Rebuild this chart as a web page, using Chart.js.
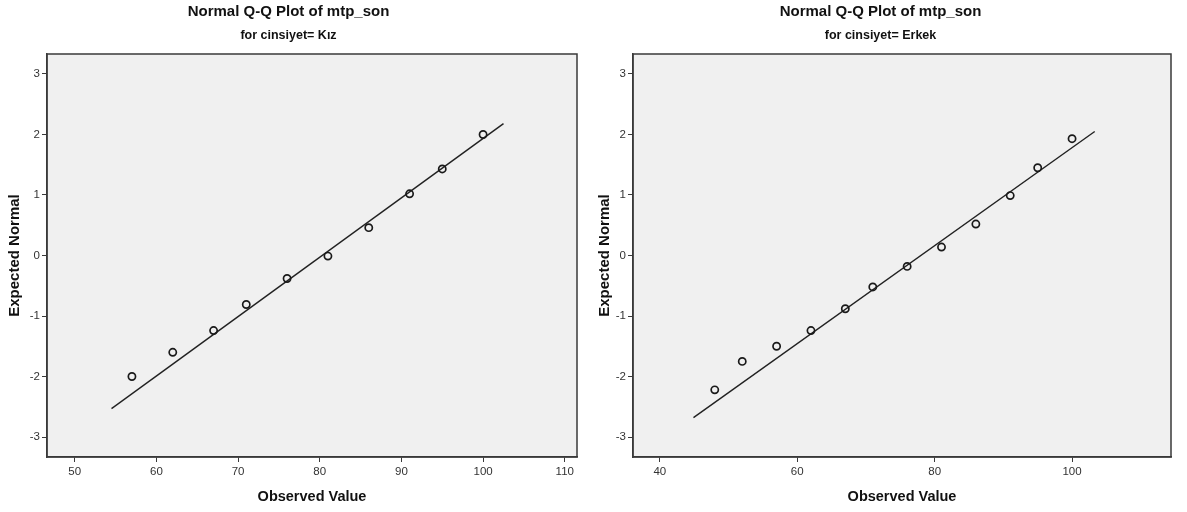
<!DOCTYPE html>
<html lang="tr">
<head>
<meta charset="utf-8">
<title>Normal Q-Q Plot of mtp_son</title>
<script src="https://cdn.jsdelivr.net/npm/chart.js@4.4.1/dist/chart.umd.min.js"></script>
<style>
    html, body { margin: 0; padding: 0; background: #fff; }
    .wrap { display: flex; width: 1187px; height: 512px; }
    .panel-left { position: relative; width: 590px; height: 512px; }
    .panel-right { position: relative; width: 597px; height: 512px; }
</style>
</head>
<body>
<div class="wrap">
    <div class="panel-left"><canvas id="chartKiz"></canvas></div>
    <div class="panel-right"><canvas id="chartErkek"></canvas></div>
</div>
<script>
// ------------------------------------------------------------
// Datos leídos del gráfico (valor observado / normal esperada)
// ------------------------------------------------------------
const kizObserved = [57, 62, 67, 71, 76, 81, 86, 91, 95, 100];
const kizExpected = [-2.0, -1.6, -1.24, -0.81, -0.38, -0.01, 0.46, 1.02, 1.43, 2.0];
const kizLineX = [54.5, 102.5];
const kizLineY = [-2.53, 2.18];
const kizXTicks = [50, 60, 70, 80, 90, 100, 110];

const erkekObserved = [48, 52, 57, 62, 67, 71, 76, 81, 86, 91, 95, 100];
const erkekExpected = [-2.22, -1.75, -1.5, -1.24, -0.88, -0.52, -0.18, 0.14, 0.52, 0.99, 1.45, 1.93];
const erkekLineX = [44.9, 103.3];
const erkekLineY = [-2.68, 2.05];
const erkekXTicks = [40, 60, 80, 100];

const yTicks = [-3, -2, -1, 0, 1, 2, 3];

// Colores estilo SPSS
const PLOT_BG = '#f0f0f0';
const INK = '#1a1a1a';
const AXIS = '#3a3a3a';
const FONT = "'Liberation Sans', Arial, sans-serif";

// Fondo gris del área de trazado + marco completo
const framePlugin = {
    id: 'frame',
    beforeDraw(chart) {
        const { ctx, chartArea: a } = chart;
        ctx.save();
        ctx.fillStyle = PLOT_BG;
        ctx.fillRect(a.left, a.top, a.right - a.left, a.bottom - a.top);
        ctx.restore();
    },
    afterDraw(chart) {
        const { ctx, chartArea: a } = chart;
        ctx.save();
        ctx.strokeStyle = AXIS;
        ctx.lineWidth = 1.5;
        ctx.strokeRect(a.left, a.top, a.right - a.left, a.bottom - a.top);
        ctx.restore();
    }
};

const toPoints = (xs, ys) => xs.map((x, i) => ({ x, y: ys[i] }));

function makeQQChart(id, cfg) {
    return new Chart(document.getElementById(id), {
        type: 'scatter',
        data: {
            datasets: [
                {
                    type: 'line',
                    data: toPoints(cfg.lineX, cfg.lineY),
                    borderColor: '#222', borderWidth: 1.4,
                    pointRadius: 0, fill: false, order: 2
                },
                {
                    data: toPoints(cfg.observed, cfg.expected),
                    pointStyle: 'circle', pointRadius: 3.6,
                    borderColor: INK, borderWidth: 1.7,
                    backgroundColor: 'rgba(0,0,0,0)', order: 1
                }
            ]
        },
        options: {
            responsive: true,
            maintainAspectRatio: false,
            animation: false,
            layout: { padding: { left: 0, right: cfg.padRight, top: 0, bottom: 0 } },
            plugins: {
                legend: { display: false },
                tooltip: { enabled: false },
                title: {
                    display: true, text: 'Normal Q-Q Plot of mtp_son', color: '#111',
                    font: { family: FONT, size: 15, weight: 'bold' },
                    padding: { top: 3, bottom: 7 }
                },
                subtitle: {
                    display: true, text: cfg.subtitle, color: '#111',
                    font: { family: FONT, size: 12.5, weight: 'bold' },
                    padding: { top: 0, bottom: 11 }
                }
            },
            scales: {
                x: {
                    type: 'linear', min: cfg.xMin, max: cfg.xMax,
                    afterBuildTicks: (s) => { s.ticks = cfg.xTicks.map(v => ({ value: v })); },
                    afterFit: (s) => { s.height = 55; },
                    grid: { drawOnChartArea: false, drawTicks: true, tickLength: 5, color: AXIS, lineWidth: 1 },
                    border: { display: true, color: AXIS, width: 1.5 },
                    ticks: { color: '#333', padding: 3, font: { family: FONT, size: 11.5 } },
                    title: {
                        display: true, text: 'Observed Value', color: '#111',
                        font: { family: FONT, size: 14.5, weight: 'bold' },
                        padding: { top: 0, bottom: 6 }
                    }
                },
                y: {
                    type: 'linear', min: -3.33, max: 3.33,
                    afterBuildTicks: (s) => { s.ticks = yTicks.map(v => ({ value: v })); },
                    afterFit: (s) => { s.width = cfg.yWidth; },
                    grid: { drawOnChartArea: false, drawTicks: true, tickLength: 5, color: AXIS, lineWidth: 1 },
                    border: { display: true, color: AXIS, width: 1.5 },
                    ticks: { color: '#333', padding: 2, font: { family: FONT, size: 11.5 } },
                    title: {
                        display: true, text: 'Expected Normal', color: '#111',
                        font: { family: FONT, size: 15, weight: 'bold' },
                        padding: { top: 6, bottom: 0 }
                    }
                }
            }
        },
        plugins: [framePlugin]
    });
}

// Panel izquierdo: cinsiyet = Kız
makeQQChart('chartKiz', {
    subtitle: 'for cinsiyet= Kız',
    observed: kizObserved, expected: kizExpected,
    lineX: kizLineX, lineY: kizLineY, xTicks: kizXTicks,
    xMin: 46.6, xMax: 111.5, yWidth: 47, padRight: 13
});

// Panel derecho: cinsiyet = Erkek
makeQQChart('chartErkek', {
    subtitle: 'for cinsiyet= Erkek',
    observed: erkekObserved, expected: erkekExpected,
    lineX: erkekLineX, lineY: erkekLineY, xTicks: erkekXTicks,
    xMin: 36.1, xMax: 114.4, yWidth: 43, padRight: 16
});
</script>
</body>
</html>
